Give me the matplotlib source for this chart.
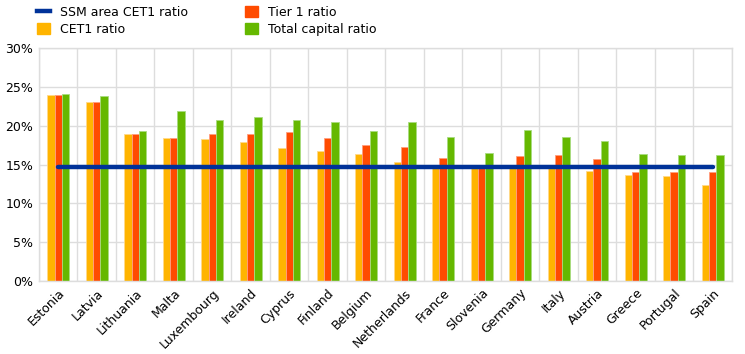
import numpy as np
import matplotlib.pyplot as plt
from matplotlib.lines import Line2D
from matplotlib.patches import Patch

countries = ["Estonia", "Latvia", "Lithuania", "Malta", "Luxembourg", "Ireland",
             "Cyprus", "Finland", "Belgium", "Netherlands", "France", "Slovenia",
             "Germany", "Italy", "Austria", "Greece", "Portugal", "Spain"]
cet1 = [24.0, 23.0, 19.0, 18.4, 18.3, 17.9, 17.2, 16.8, 16.4, 15.4,
        14.8, 14.6, 14.7, 14.7, 14.2, 13.7, 13.5, 12.4]
tier1 = [24.0, 23.0, 19.0, 18.4, 18.9, 18.9, 19.2, 18.4, 17.5, 17.3,
         15.9, 14.7, 16.1, 16.2, 15.7, 14.1, 14.0, 14.0]
total = [24.1, 23.9, 19.3, 21.9, 20.7, 21.1, 20.8, 20.5, 19.3, 20.5,
         18.6, 16.5, 19.5, 18.6, 18.0, 16.4, 16.2, 16.2]
ssm_cet1 = [14.7] * len(countries)

c_cet1 = "#FFB400"
c_tier1 = "#FF4B00"
c_total = "#65B800"
c_line = "#003299"

fig = plt.figure(figsize=(7.45, 3.54), dpi=100)
ax = fig.add_axes([0.0523, 0.206, 0.930, 0.658])

x = np.arange(len(countries))
w = 0.19
ax.bar(x - w, cet1, w, color=c_cet1, edgecolor="#FFD98A", linewidth=0.6, zorder=2)
ax.bar(x, tier1, w, color=c_tier1, edgecolor="#FF9E80", linewidth=0.6, zorder=2)
ax.bar(x + w, total, w, color=c_total, edgecolor="#A8DC80", linewidth=0.6, zorder=2)
ax.plot(x, ssm_cet1, color=c_line, linewidth=3.2, solid_capstyle="round", zorder=3)

ax.set_xlim(-0.5, len(countries) - 0.5)
ax.set_ylim(0, 30)
ax.set_yticks(np.arange(0, 31, 5))
ax.set_yticklabels([f"{v}%" for v in range(0, 31, 5)], fontsize=9)
ax.set_xticks(x)
ax.set_xticklabels(countries, rotation=45, ha="right", rotation_mode="anchor",
                   fontsize=9)
ax.set_xticks(np.arange(-0.5, len(countries), 1), minor=True)
ax.tick_params(axis="both", length=0, pad=4)
ax.tick_params(axis="x", which="minor", length=0)
ax.grid(axis="y", color="#DDDDDD", linewidth=1, zorder=0)
ax.grid(axis="x", which="minor", color="#DDDDDD", linewidth=1, zorder=0)
ax.grid(axis="x", which="major", visible=False)
for s in ax.spines.values():
    s.set_color("#DDDDDD")
    s.set_linewidth(1)

handles = [Line2D([0], [0], color=c_line, linewidth=3.2),
           Patch(color=c_cet1),
           Patch(color=c_tier1),
           Patch(color=c_total)]
labels = ["SSM area CET1 ratio", "CET1 ratio", "Tier 1 ratio", "Total capital ratio"]
fig.legend(handles, labels, ncol=2, loc="upper left", bbox_to_anchor=(0.035, 1.015),
           frameon=False, fontsize=9, handlelength=1.0, handleheight=0.9,
           columnspacing=4.6, labelspacing=0.3)

fig.savefig("out.png", dpi=100)
